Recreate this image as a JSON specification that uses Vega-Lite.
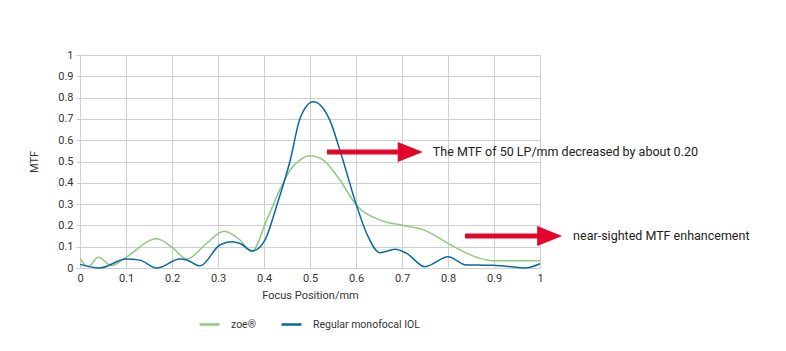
{
  "$schema": "https://vega.github.io/schema/vega-lite/v6.json",
  "width": 460,
  "height": 213,
  "autosize": {"type": "none"},
  "padding": {"left": 80, "top": 55, "right": 246, "bottom": 83},
  "background": "white",
  "config": {
    "view": {"stroke": null},
    "font": "Roboto",
    "axis": {"labelFont": "Roboto", "titleFont": "Roboto", "labelColor": "#333", "titleColor": "#333", "labelFontSize": 11, "titleFontSize": 11, "titleFontWeight": "normal", "gridColor": "#cfcfcf", "gridWidth": 1, "domain": false, "tickColor": "#cfcfcf", "gridOpacity": 1, "labelOverlap": false},
    "legend": {"labelFont": "Roboto", "labelFontSize": 10.5, "labelColor": "#333"}
  },
  "datasets": {
    "curves": [
      {"series": "zoe®", "pos": 0, "mtf": 0.045},
      {"series": "zoe®", "pos": 0.018, "mtf": 0.006},
      {"series": "zoe®", "pos": 0.04, "mtf": 0.05},
      {"series": "zoe®", "pos": 0.069, "mtf": 0.011},
      {"series": "zoe®", "pos": 0.1, "mtf": 0.05},
      {"series": "zoe®", "pos": 0.167, "mtf": 0.137},
      {"series": "zoe®", "pos": 0.203, "mtf": 0.092},
      {"series": "zoe®", "pos": 0.232, "mtf": 0.042},
      {"series": "zoe®", "pos": 0.275, "mtf": 0.115},
      {"series": "zoe®", "pos": 0.313, "mtf": 0.172},
      {"series": "zoe®", "pos": 0.348, "mtf": 0.131},
      {"series": "zoe®", "pos": 0.373, "mtf": 0.077},
      {"series": "zoe®", "pos": 0.406, "mtf": 0.225},
      {"series": "zoe®", "pos": 0.435, "mtf": 0.37},
      {"series": "zoe®", "pos": 0.457, "mtf": 0.46},
      {"series": "zoe®", "pos": 0.48, "mtf": 0.51},
      {"series": "zoe®", "pos": 0.5, "mtf": 0.527},
      {"series": "zoe®", "pos": 0.529, "mtf": 0.506},
      {"series": "zoe®", "pos": 0.565, "mtf": 0.413},
      {"series": "zoe®", "pos": 0.601, "mtf": 0.295},
      {"series": "zoe®", "pos": 0.652, "mtf": 0.225},
      {"series": "zoe®", "pos": 0.703, "mtf": 0.2},
      {"series": "zoe®", "pos": 0.746, "mtf": 0.18},
      {"series": "zoe®", "pos": 0.8, "mtf": 0.116},
      {"series": "zoe®", "pos": 0.855, "mtf": 0.056},
      {"series": "zoe®", "pos": 0.898, "mtf": 0.034},
      {"series": "zoe®", "pos": 1, "mtf": 0.034},
      {"series": "Regular monofocal IOL", "pos": 0, "mtf": 0.017},
      {"series": "Regular monofocal IOL", "pos": 0.043, "mtf": 0.0},
      {"series": "Regular monofocal IOL", "pos": 0.1, "mtf": 0.042},
      {"series": "Regular monofocal IOL", "pos": 0.13, "mtf": 0.037},
      {"series": "Regular monofocal IOL", "pos": 0.167, "mtf": 0.0},
      {"series": "Regular monofocal IOL", "pos": 0.217, "mtf": 0.042},
      {"series": "Regular monofocal IOL", "pos": 0.232, "mtf": 0.038},
      {"series": "Regular monofocal IOL", "pos": 0.261, "mtf": 0.01},
      {"series": "Regular monofocal IOL", "pos": 0.304, "mtf": 0.108},
      {"series": "Regular monofocal IOL", "pos": 0.33, "mtf": 0.123},
      {"series": "Regular monofocal IOL", "pos": 0.348, "mtf": 0.115},
      {"series": "Regular monofocal IOL", "pos": 0.375, "mtf": 0.08},
      {"series": "Regular monofocal IOL", "pos": 0.402, "mtf": 0.131},
      {"series": "Regular monofocal IOL", "pos": 0.428, "mtf": 0.295},
      {"series": "Regular monofocal IOL", "pos": 0.457, "mtf": 0.506},
      {"series": "Regular monofocal IOL", "pos": 0.478, "mtf": 0.7},
      {"series": "Regular monofocal IOL", "pos": 0.507, "mtf": 0.78},
      {"series": "Regular monofocal IOL", "pos": 0.543, "mtf": 0.694},
      {"series": "Regular monofocal IOL", "pos": 0.565, "mtf": 0.553},
      {"series": "Regular monofocal IOL", "pos": 0.601, "mtf": 0.295},
      {"series": "Regular monofocal IOL", "pos": 0.623, "mtf": 0.163},
      {"series": "Regular monofocal IOL", "pos": 0.652, "mtf": 0.072},
      {"series": "Regular monofocal IOL", "pos": 0.685, "mtf": 0.088},
      {"series": "Regular monofocal IOL", "pos": 0.71, "mtf": 0.069},
      {"series": "Regular monofocal IOL", "pos": 0.75, "mtf": 0.006},
      {"series": "Regular monofocal IOL", "pos": 0.8, "mtf": 0.053},
      {"series": "Regular monofocal IOL", "pos": 0.84, "mtf": 0.014},
      {"series": "Regular monofocal IOL", "pos": 0.898, "mtf": 0.013},
      {"series": "Regular monofocal IOL", "pos": 0.967, "mtf": 0.0},
      {"series": "Regular monofocal IOL", "pos": 1, "mtf": 0.02}
    ],
    "arrows": [
      {"from": 0.537, "to": 0.718, "level": 0.545, "label": "The MTF of 50 LP/mm decreased by about 0.20", "labelAt": 0.767},
      {"from": 0.837, "to": 1.021, "level": 0.15, "label": "near-sighted MTF enhancement", "labelAt": 1.072}
    ]
  },
  "layer": [
    {
      "data": {"name": "curves"},
      "mark": {"type": "line", "interpolate": "monotone", "strokeWidth": 1.5},
      "encoding": {
        "x": {"field": "pos", "type": "quantitative", "scale": {"domain": [0, 1], "nice": false, "zero": false},
          "axis": {"title": "Focus Position/mm", "tickCount": 10, "tickMinStep": 0.1, "ticks": false, "labelPadding": 4, "titlePadding": 6, "labelFlush": false, "labelOverlap": false, "format": "~g"}},
        "y": {"field": "mtf", "type": "quantitative", "scale": {"domain": [0, 1], "nice": false},
          "axis": {"title": "MTF", "tickCount": 10, "tickMinStep": 0.1, "ticks": true, "tickSize": 4, "labelPadding": 3, "titlePadding": 18, "labelFlush": false, "labelOverlap": false, "format": "~g"}},
        "color": {"field": "series", "type": "nominal",
          "scale": {"domain": ["zoe®", "Regular monofocal IOL"], "range": ["#8ccb7e", "#0a67a3"]},
          "legend": {"title": null, "orient": "none", "direction": "horizontal", "legendX": 118, "legendY": 258, "symbolType": "stroke", "symbolStrokeWidth": 2.5, "symbolSize": 400, "columnPadding": 20, "labelOffset": 10}},
        "order": {"field": "pos", "type": "quantitative"}
      }
    },
    {
      "data": {"name": "arrows"},
      "mark": {"type": "rule", "color": "#e2062b", "strokeWidth": 5},
      "encoding": {
        "x": {"field": "from", "type": "quantitative"},
        "x2": {"field": "to"},
        "y": {"field": "level", "type": "quantitative"}
      }
    },
    {
      "data": {"name": "arrows"},
      "mark": {"type": "point", "shape": "M-1,-0.8L1,0L-1,0.8Z", "filled": true, "color": "#e2062b", "opacity": 1, "size": 625},
      "encoding": {
        "x": {"field": "to", "type": "quantitative"},
        "y": {"field": "level", "type": "quantitative"}
      }
    },
    {
      "data": {"name": "arrows"},
      "mark": {"type": "text", "align": "left", "baseline": "middle", "fontSize": 12.5, "color": "#222", "font": "Roboto"},
      "encoding": {
        "x": {"field": "labelAt", "type": "quantitative"},
        "y": {"field": "level", "type": "quantitative"},
        "text": {"field": "label"}
      }
    }
  ]
}
